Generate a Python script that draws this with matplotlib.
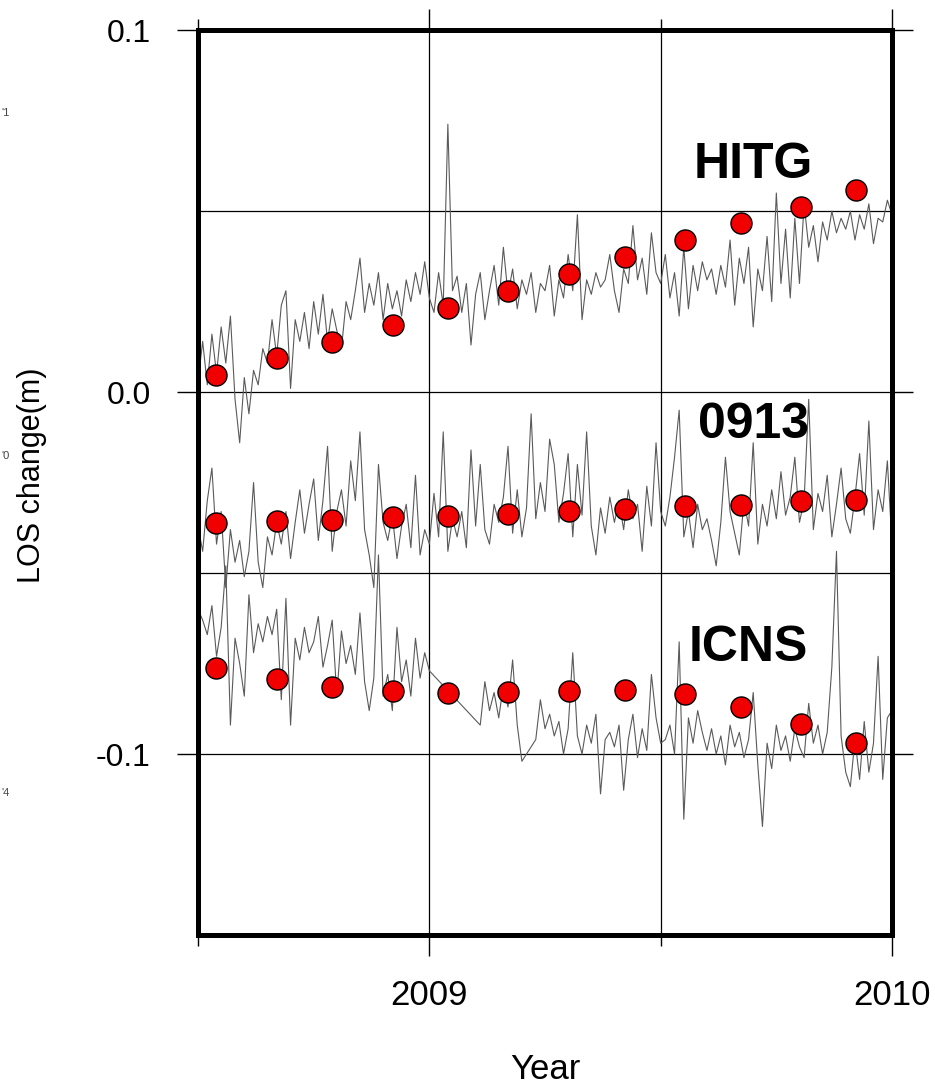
import numpy as np
import matplotlib.pyplot as plt
from matplotlib.ticker import MultipleLocator

plt.rcParams['font.family'] = ['Liberation Sans', 'DejaVu Sans']

# daily-ish GPS LOS series, resampled every 0.01 yr (values in mm)
t_start = 2008.50
t_step = 0.01

hitg_mm = [
    3, 14, 2, 16, 5, 18, 8, 21, -2, -14, 4,
    -6, 6, 2, 12, 8, 20, 10, 24, 28, 1,
    20, 14, 22, 12, 25, 16, 27, 14, 23, 17,
    12, 25, 20, 28, 37, 22, 30, 24, 33, 20,
    30, 23, 28, 21, 31, 25, 33, 27, 36, 26,
    22, 33, 24, 74, 28, 32, 22, 30, 13, 27,
    33, 20, 28, 35, 24, 40, 27, 34, 23, 31,
    27, 33, 22, 30, 28, 35, 21, 31, 26, 38,
    28, 49, 20, 31, 27, 33, 29, 31, 38, 28,
    22, 34, 30, 46, 31, 37, 27, 44, 33, 30,
    38, 26, 33, 21, 40, 23, 35, 28, 36, 31,
    34, 27, 35, 29, 42, 24, 37, 30, 40, 18,
    34, 28, 43, 25, 55, 30, 45, 26, 48, 30,
    52, 40, 46, 36, 47, 42, 50, 44, 48, 45,
    50, 42, 49, 45, 52, 41, 48, 47, 53, 49,
]

s0913_mm = [
    -37, -44, -30, -21, -42, -33, -54, -38, -47, -41, -51,
    -44, -25, -47, -54, -40, -45, -36, -42, -33, -46,
    -36, -27, -39, -31, -24, -41, -30, -15, -44, -33,
    -27, -37, -19, -30, -11, -38, -45, -54, -20, -36,
    -41, -34, -46, -37, -31, -43, -23, -45, -38, -42,
    -28, -40, -11, -44, -35, -40, -33, -43, -16, -37,
    -20, -38, -42, -31, -36, -29, -15, -39, -27, -40,
    -32, -6, -35, -25, -33, -13, -20, -36, -28, -17,
    -40, -20, -34, -11, -37, -45, -32, -39, -29, -36,
    -30, -38, -27, -35, -31, -44, -26, -37, -14, -33,
    -37, -29, -18, -5, -40, -33, -43, -31, -38, -35,
    -41, -48, -36, -18, -33, -39, -45, -30, -37, -14,
    -42, -31, -37, -27, -35, -22, -34, -29, -18, -36,
    -30, -2, -38, -28, -33, -23, -40, -31, -21, -35,
    -39, -29, -17, -34, -8, -38, -27, -33, -19, -42,
]

# ICNS has data gaps (2009.01-2009.10 and 2009.21-2009.22) -> NaN dropped below
nan = np.nan
icns_mm = [
    -60, -63, -67, -59, -73, -65, -48, -92, -68, -75, -84,
    -56, -72, -64, -69, -62, -67, -60, -85, -57, -92,
    -68, -74, -65, -72, -69, -62, -76, -70, -63, -84,
    -66, -75, -70, -78, -61, -80, -88, -79, -45, -84,
    -78, -88, -65, -80, -74, -84, -68, -79, -72, -77,
    nan, nan, nan, nan, nan, nan, nan, nan, nan, nan,
    -92, -80, -88, -83, -90, -81, -87, -74, -92, -102,
    nan, nan, -96, -85, -93, -89, -95, -91, -100, -93,
    -72, -95, -100, -92, -97, -89, -111, -96, -94, -98,
    -92, -110, -96, -89, -101, -93, -99, -78, -90, -97,
    -96, -92, -100, -69, -118, -90, -97, -88, -94, -99,
    -93, -100, -95, -103, -92, -98, -94, -101, -96, -83,
    -103, -120, -97, -104, -92, -99, -95, -102, -93, -98,
    -101, -86, -97, -92, -100, -94, -76, -44, -95, -105,
    -109, -96, -107, -91, -105, -97, -73, -107, -90, -88,
]

# InSAR points (red dots)
sar_t = [2008.539, 2008.670, 2008.789, 2008.921, 2009.040, 2009.170,
         2009.302, 2009.422, 2009.553, 2009.673, 2009.803, 2009.922]
hitg_sar_mm = [4.6, 9.4, 13.8, 18.5, 23.2, 28.0, 32.6, 37.3, 41.9, 46.6, 51.1, 55.8]
s0913_sar_mm = [-36.2, -35.7, -35.3, -34.6, -34.1, -33.6, -32.8, -32.2, -31.6, -31.1, -30.2, -29.8]
icns_sar_mm = [-76.1, -79.3, -81.6, -82.7, -83.0, -82.8, -82.6, -82.3, -83.5, -86.9, -91.7, -96.9]

station_names = ['HITG', '0913', 'ICNS']
label_pos = [(2009.70, 0.0626), (2009.70, -0.0091), (2009.69, -0.0706)]

fig = plt.figure(figsize=(9.35, 10.86), dpi=100)
ax = fig.add_axes([0.2118, 0.139, 0.7422, 0.8333])

for series in [hitg_mm, s0913_mm, icns_mm]:
    y = np.array(series, dtype=float) / 1000.0
    t = t_start + t_step * np.arange(len(y))
    ok = ~np.isnan(y)
    ax.plot(t[ok], y[ok], color='#5a5a5a', lw=0.8, zorder=2)

for vals in [hitg_sar_mm, s0913_sar_mm, icns_sar_mm]:
    ax.scatter(sar_t, np.array(vals) / 1000.0, s=230, c='#f00000',
               edgecolors='black', linewidths=1.0, zorder=4)

for name, (tx, ty) in zip(station_names, label_pos):
    ax.text(tx, ty, name, fontsize=36, fontweight='bold', ha='center',
            va='center', zorder=5)

ax.set_xlim(2008.5, 2010.0)
ax.set_ylim(-0.15, 0.1)

ax.xaxis.set_minor_locator(MultipleLocator(0.5))
ax.yaxis.set_minor_locator(MultipleLocator(0.05))
ax.set_yticks([0.1, 0.0, -0.1])
ax.set_yticklabels(['0.1', '0.0', '-0.1'])
ax.set_xticks([2009, 2010])
ax.set_xticklabels(['2009', '2010'])

ax.grid(True, which='both', color='black', lw=0.9)
for gl in ax.get_xgridlines() + ax.get_ygridlines():
    gl.set_zorder(1)

ax.tick_params(which='major', direction='out', length=15, width=1.0,
               top=True, right=True)
ax.tick_params(axis='y', which='major', labelsize=23, pad=19)
ax.tick_params(axis='x', which='major', labelsize=25, pad=17)
ax.tick_params(which='minor', direction='out', length=8, width=1.0,
               top=True, right=False, left=False)
for sp in ax.spines.values():
    sp.set_linewidth(3.6)

fig.text(0.034, 0.5626, 'LOS change(m)', rotation=90, fontsize=22,
         ha='center', va='center', family=['Liberation Sans Narrow', 'Liberation Sans'])
fig.text(0.583, 0.0, 'Year', fontsize=25, ha='center', va='bottom')

# cut-off labels of a neighbouring panel
for yy, s in [(0.896, "'1"), (0.580, "'0"), (0.270, "'4")]:
    fig.text(0.002, yy, s, fontsize=8, color='#444444', ha='left', va='center')

fig.savefig('out.png', dpi=100)
